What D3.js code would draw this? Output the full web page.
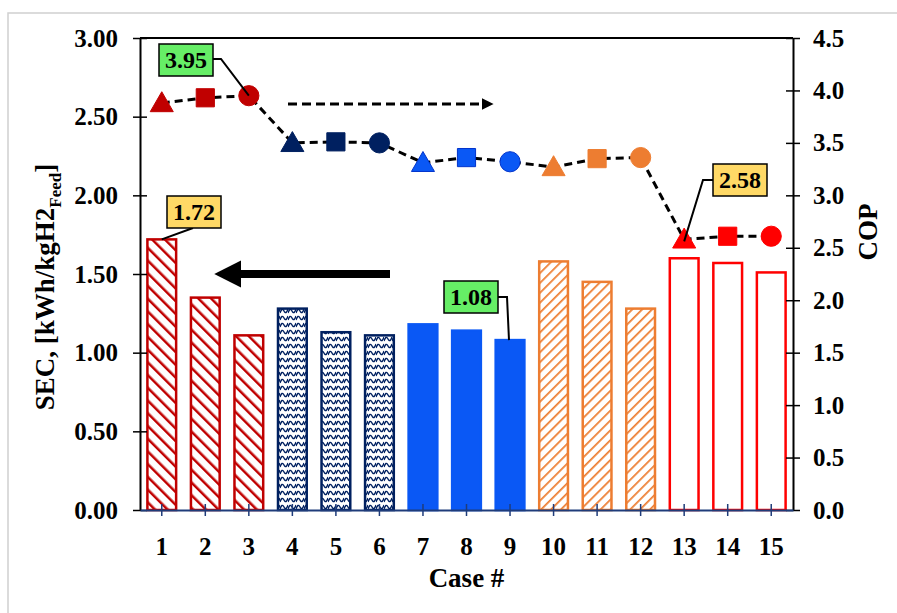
<!DOCTYPE html>
<html>
<head>
<meta charset="utf-8">
<script src="https://cdn.jsdelivr.net/npm/d3@7"></script>
<style>
  body { margin: 0; background: #fff; }
  svg text { font-family: "Liberation Serif", "Times New Roman", serif; font-weight: bold; }
</style>
</head>
<body>
<svg id="chart" width="897" height="613"></svg>
<script>
// data
const cases = ["1","2","3","4","5","6","7","8","9","10","11","12","13","14","15"];
const secValues = [1.72, 1.35, 1.11, 1.28, 1.13, 1.11, 1.18, 1.14, 1.08, 1.58, 1.45, 1.28, 1.60, 1.57, 1.51];
const copValues = [3.88, 3.93, 3.95, 3.50, 3.51, 3.50, 3.31, 3.36, 3.32, 3.27, 3.35, 3.36, 2.58, 2.61, 2.61];
const groups = ["red", "red", "red", "navy", "navy", "navy", "blue", "blue", "blue", "orange", "orange", "orange", "bright", "bright", "bright"];
const shapes = ["tri", "sq", "circ", "tri", "sq", "circ", "tri", "sq", "circ", "tri", "sq", "circ", "tri", "sq", "circ"];
const secTicks = [0, 0.5, 1, 1.5, 2, 2.5, 3];
const copTicks = [0, 0.5, 1, 1.5, 2, 2.5, 3, 3.5, 4, 4.5];

const colors = { red: "#c00000", navy: "#002060", blue: "#0a58f5", orange: "#ed7d31", bright: "#ff0000" };

const svg = d3.select("#chart");
const margin = { left: 140, right: 104, top: 38, bottom: 103 };
const W = 897, H = 613;

const x = d3.scaleBand().domain(cases).range([margin.left, W - margin.right]).paddingInner(0.34).paddingOuter(0.17);
const y = d3.scaleLinear().domain([0, 3]).range([H - margin.bottom, margin.top]);
const y2 = d3.scaleLinear().domain([0, 4.5]).range([H - margin.bottom, margin.top]);

// outer frame
svg.append("rect").attr("x", 8).attr("y", 13).attr("width", 920).attr("height", 640)
  .attr("fill", "none").attr("stroke", "#d0d0d0").attr("stroke-width", 1.5);

// patterns
const defs = svg.append("defs");
const p1 = defs.append("pattern").attr("id", "hatchRed").attr("patternUnits", "userSpaceOnUse")
  .attr("width", 9).attr("height", 9).attr("patternTransform", "rotate(-45)");
p1.append("rect").attr("width", 9).attr("height", 9).attr("fill", "#fff");
p1.append("line").attr("x1", 0).attr("y1", 0).attr("x2", 0).attr("y2", 9)
  .attr("stroke", colors.red).attr("stroke-width", 5);

const p2 = defs.append("pattern").attr("id", "hatchOrange").attr("patternUnits", "userSpaceOnUse")
  .attr("width", 7).attr("height", 7).attr("patternTransform", "rotate(45)");
p2.append("rect").attr("width", 7).attr("height", 7).attr("fill", "#fff");
p2.append("line").attr("x1", 0).attr("y1", 0).attr("x2", 0).attr("y2", 7)
  .attr("stroke", colors.orange).attr("stroke-width", 3.5);

const p3 = defs.append("pattern").attr("id", "wave").attr("patternUnits", "userSpaceOnUse")
  .attr("width", 8).attr("height", 7);
p3.append("rect").attr("width", 8).attr("height", 7).attr("fill", "#fff");
p3.append("path").attr("d", "M0,5 Q2,-1 4,3 Q6,7 8,1")
  .attr("fill", "none").attr("stroke", colors.navy).attr("stroke-width", 1.4);

const fills = { red: "url(#hatchRed)", navy: "url(#wave)", blue: colors.blue, orange: "url(#hatchOrange)", bright: "#fff" };

// bars
svg.append("g").selectAll("rect").data(cases).join("rect")
  .attr("x", d => x(d))
  .attr("y", (d, i) => y(secValues[i]))
  .attr("width", x.bandwidth())
  .attr("height", (d, i) => y(0) - y(secValues[i]))
  .attr("fill", (d, i) => fills[groups[i]])
  .attr("stroke", (d, i) => colors[groups[i]])
  .attr("stroke-width", 2.5);

// axes
const axL = svg.append("g").attr("transform", `translate(${margin.left},0)`)
  .call(d3.axisLeft(y).tickValues(secTicks).tickFormat(d3.format(".2f")).tickSize(0).tickPadding(22));
axL.select(".domain").attr("stroke", "#000").attr("stroke-width", 2);
axL.selectAll(".tick").append("line").attr("x1", -7).attr("x2", 7).attr("stroke", "#000").attr("stroke-width", 1.5);
axL.selectAll("text").attr("font-size", 25).attr("fill", "#000");

const axR = svg.append("g").attr("transform", `translate(${W - margin.right},0)`)
  .call(d3.axisRight(y2).tickValues(copTicks).tickFormat(d3.format(".1f")).tickSize(0).tickPadding(20));
axR.select(".domain").attr("stroke", "#000").attr("stroke-width", 2);
axR.selectAll(".tick").append("line").attr("x1", -7).attr("x2", 7).attr("stroke", "#000").attr("stroke-width", 1.5);
axR.selectAll("text").attr("font-size", 25).attr("fill", "#000");

// top frame line
svg.append("line").attr("x1", margin.left).attr("x2", W - margin.right)
  .attr("y1", margin.top).attr("y2", margin.top).attr("stroke", "#000").attr("stroke-width", 2);

const axB = svg.append("g").attr("transform", `translate(0,${H - margin.bottom})`)
  .call(d3.axisBottom(x).tickSize(0).tickPadding(27));
axB.select(".domain").attr("stroke", "#1f3c7a").attr("stroke-width", 2);
axB.selectAll(".tick").append("line").attr("y1", -6).attr("y2", 6).attr("stroke", "#1f3c7a").attr("stroke-width", 1.5);
axB.selectAll("text").attr("font-size", 25).attr("fill", "#000");

// axis titles
const yt = svg.append("text").attr("transform", "translate(54,287) rotate(-90)")
  .attr("text-anchor", "middle").attr("font-size", 27);
yt.append("tspan").text("SEC, [kWh/kgH2");
yt.append("tspan").attr("font-size", 17).attr("dy", 7).text("Feed");
yt.append("tspan").attr("dy", -7).text("]");

svg.append("text").attr("transform", "translate(877,232) rotate(-90)")
  .attr("text-anchor", "middle").attr("font-size", 27).text("COP");

svg.append("text").attr("x", (margin.left + W - margin.right) / 2).attr("y", 587)
  .attr("text-anchor", "middle").attr("font-size", 27).text("Case #");

// COP dashed line
const cx = i => x(cases[i]) + x.bandwidth() / 2;
svg.append("path")
  .datum(copValues)
  .attr("d", d3.line().x((d, i) => cx(i)).y(d => y2(d)))
  .attr("fill", "none").attr("stroke", "#000").attr("stroke-width", 3).attr("stroke-dasharray", "8,5");

// markers
const sym = { tri: d3.symbolTriangle, sq: d3.symbolSquare, circ: d3.symbolCircle };
const symSize = { tri: 230, sq: 330, circ: 320 };
svg.append("g").selectAll("path").data(copValues).join("path")
  .attr("transform", (d, i) => `translate(${cx(i)},${y2(d) + (shapes[i] === "tri" ? 2 : 0)})`)
  .attr("d", (d, i) => d3.symbol(sym[shapes[i]], symSize[shapes[i]])())
  .attr("fill", (d, i) => colors[groups[i]])
  .attr("stroke", (d, i) => groups[i] === "blue" ? "#0033cc" : colors[groups[i]])
  .attr("stroke-width", 1);

// arrows
defs.append("marker").attr("id", "headBig").attr("viewBox", "0 0 10 10").attr("refX", 2).attr("refY", 5)
  .attr("markerWidth", 3.4).attr("markerHeight", 3.4).attr("orient", "auto")
  .append("path").attr("d", "M0,0 L10,5 L0,10 Z").attr("fill", "#000");
defs.append("marker").attr("id", "headSmall").attr("viewBox", "0 0 10 10").attr("refX", 2).attr("refY", 5)
  .attr("markerWidth", 4).attr("markerHeight", 4).attr("orient", "auto")
  .append("path").attr("d", "M0,0 L10,5 L0,10 Z").attr("fill", "#000");

svg.append("line").attr("x1", 390).attr("y1", y(1.5)).attr("x2", 236).attr("y2", y(1.5))
  .attr("stroke", "#000").attr("stroke-width", 8).attr("marker-end", "url(#headBig)");
svg.append("line").attr("x1", 288).attr("y1", 104).attr("x2", 484).attr("y2", 104)
  .attr("stroke", "#000").attr("stroke-width", 3).attr("stroke-dasharray", "9,5").attr("marker-end", "url(#headSmall)");

// callouts
function callout(label, bx, by, fill, pts) {
  svg.append("path").attr("d", d3.line()(pts)).attr("fill", "none").attr("stroke", "#000").attr("stroke-width", 2);
  svg.append("rect").attr("x", bx).attr("y", by).attr("width", 54).attr("height", 32)
    .attr("fill", fill).attr("stroke", "#000").attr("stroke-width", 1.5);
  svg.append("text").attr("x", bx + 27).attr("y", by + 24).attr("text-anchor", "middle")
    .attr("font-size", 24).text(label);
}
callout("3.95", 159, 44, "#66ee66", [[213, 59], [221, 59], [cx(2), y2(copValues[2])]]);
callout("1.72", 167, 196, "#ffd966", [[193, 228], [cx(0), y(secValues[0])]]);
callout("1.08", 444, 281, "#66ee66", [[498, 297], [507, 297], [509, y(secValues[8])]]);
callout("2.58", 713, 164, "#ffd966", [[713, 180], [703, 180], [cx(12), y2(copValues[12]) + 2]]);
</script>
</body>
</html>
